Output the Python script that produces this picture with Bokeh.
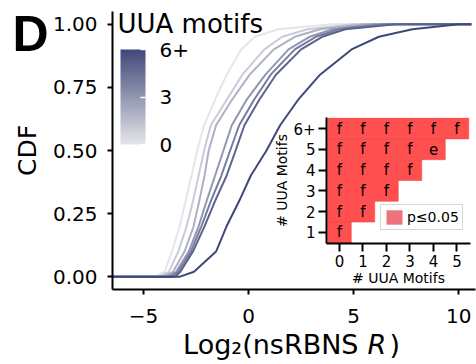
from bokeh.plotting import figure
from bokeh.models import (ColorBar, LinearColorMapper, FixedTicker, Label, Legend,
                          LegendItem, ColumnDataSource, PrintfTickFormatter)
from bokeh.layouts import column
from bokeh.embed import file_html
from bokeh.resources import INLINE
from bokeh.core.properties import value

# ---------------- data ----------------
motif_counts = [0, 1, 2, 3, 4, 5, 6]
motif_labels = ["0", "1", "2", "3", "4", "5", "6+"]
cdf_levels = [0.0, 0.0, 0.02, 0.1, 0.2, 0.3, 0.4, 0.5, 0.6, 0.7, 0.8, 0.9, 0.95, 0.98, 1.0, 1.0]
x_m0 = [-6.5, -4.5, -4.0, -3.65, -3.28, -3.0, -2.72, -2.45, -2.12, -1.6, -1.05, -0.35, 0.3, 1.4, 4.0, 10.6]
x_m1 = [-6.5, -4.3, -3.8, -3.35, -2.95, -2.65, -2.38, -2.12, -1.8, -1.05, -0.3, 0.75, 1.6, 2.8, 5.0, 10.6]
x_m2 = [-6.5, -4.1, -3.6, -3.05, -2.62, -2.35, -2.1, -1.9, -1.55, -0.8, 0.05, 1.2, 2.2, 3.4, 5.5, 10.6]
x_m3 = [-6.5, -3.9, -3.45, -2.85, -2.38, -2.0, -1.6, -1.2, -0.8, -0.1, 0.8, 1.9, 2.9, 4.0, 6.0, 10.6]
x_m4 = [-6.5, -3.7, -3.35, -2.75, -2.25, -1.8, -1.3, -0.88, -0.45, 0.25, 1.05, 2.2, 3.2, 4.3, 6.5, 10.6]
x_m5 = [-6.5, -3.5, -3.25, -2.65, -2.1, -1.6, -1.05, -0.62, -0.2, 0.5, 1.3, 2.5, 3.5, 4.6, 7.0, 10.6]
x_m6 = [-6.5, -3.3, -2.6, -1.55, -1.05, -0.45, 0.1, 0.85, 1.5, 2.35, 3.4, 4.9, 6.2, 7.8, 10.0, 10.6]
curves_x = [x_m0, x_m1, x_m2, x_m3, x_m4, x_m5, x_m6]

x_ticks = [-5, 0, 5, 10]
y_ticks = [0.0, 0.25, 0.5, 0.75, 1.0]

heat_rows = [1, 2, 2, 3, 3, 3, 4, 4, 4, 4, 5, 5, 5, 5, 5, 6, 6, 6, 6, 6, 6]
heat_cols = [0, 0, 1, 0, 1, 2, 0, 1, 2, 3, 0, 1, 2, 3, 4, 0, 1, 2, 3, 4, 5]
heat_text = ["f", "f", "f", "f", "f", "f", "f", "f", "f", "f",
             "f", "f", "f", "f", "e", "f", "f", "f", "f", "f", "f"]
heat_x_ticks = [0, 1, 2, 3, 4, 5]
heat_y_ticks = [1, 2, 3, 4, 5, 6]
sig_label = "p≤0.05"

# ---------------- style ----------------
FONT = "DejaVu Sans"
LOW = (229, 229, 234)
HIGH = (63, 72, 121)


def mix(t):
    r, g, b = (round(LOW[i] + (HIGH[i] - LOW[i]) * t) for i in range(3))
    return "#%02x%02x%02x" % (r, g, b)


palette = [mix(i / 255) for i in range(256)]


def bare(fig):
    fig.grid.visible = False
    fig.outline_line_color = None
    fig.background_fill_alpha = 0
    fig.border_fill_alpha = 0


p = figure(width=476, height=364, x_range=(-6.48, 10.8), y_range=(-0.05, 1.05),
           output_backend="svg", toolbar_location=None,
           min_border_left=112, min_border_right=1, min_border_top=11, min_border_bottom=75)
p.grid.visible = False
p.outline_line_color = None
p.background_fill_color = "white"

for k, xs in zip(motif_counts, curves_x):
    p.line(xs, cdf_levels, line_color=mix(k / 6), line_width=2)

for ax in (p.xaxis[0], p.yaxis[0]):
    ax.axis_line_width = 2
    ax.axis_line_color = "black"
    ax.major_tick_line_width = 2
    ax.major_tick_line_color = "black"
    ax.major_tick_out = 5
    ax.major_tick_in = 0
    ax.minor_tick_out = 0
    ax.minor_tick_in = 0
    ax.major_label_text_font = FONT
    ax.major_label_text_font_size = "20px"
    ax.major_label_text_color = "black"
    ax.axis_label_text_font = FONT
    ax.axis_label_text_font_style = "normal"
    ax.axis_label_text_color = "black"

p.xaxis.ticker = FixedTicker(ticks=x_ticks)
p.xaxis.major_label_overrides = {-5: "\u22125"}
p.xaxis.major_label_standoff = 14
p.yaxis.ticker = FixedTicker(ticks=y_ticks)
p.yaxis.formatter = PrintfTickFormatter(format="%.2f")
p.yaxis.major_label_standoff = 10
p.yaxis.axis_label = "CDF"
p.yaxis.axis_label_text_font_size = "25px"
p.yaxis.axis_label_standoff = 8

# colour bar legend
p.add_layout(Label(x=5, y=266, x_units="screen", y_units="screen", text="UUA motifs",
                   text_font=FONT, text_font_size="26px", text_color="black",
                   text_baseline="middle"))
mapper = LinearColorMapper(palette=palette, low=0, high=6)
cb = ColorBar(color_mapper=mapper, ticker=FixedTicker(ticks=[0, 3, 6]),
              major_label_overrides={6: "6+"},
              major_label_text_font=FONT, major_label_text_font_size="20px",
              major_label_text_color="black", label_standoff=14,
              major_tick_line_color="white", major_tick_line_width=1.5,
              major_tick_in=5, major_tick_out=0, minor_tick_line_color=None,
              bar_line_color=None, border_line_color=None, background_fill_alpha=0,
              width=25, height=95, padding=0, location=(8, 145))
p.add_layout(cb)

# ---------------- inset heatmap ----------------
p2 = figure(width=257, height=200, x_range=(-0.553, 5.575), y_range=(0.47, 6.53),
            output_backend="svg", toolbar_location=None,
            min_border_left=112, min_border_right=1, min_border_top=17, min_border_bottom=57)
bare(p2)
p2.styles = {"position": "absolute", "left": "214px", "top": "100px"}

src = ColumnDataSource(dict(col=heat_cols, row=heat_rows, txt=heat_text))
p2.rect(x="col", y="row", width=1, height=1, source=src, fill_color="#ff4f4f",
        line_color="#f24a4a", line_width=0.6)
p2.text(x="col", y="row", text="txt", source=src, text_align="center",
        text_baseline="middle", text_font=value(FONT), text_font_size="15px", text_color="black")

nan = float("nan")
leg_r = p2.rect(x=[nan], y=[nan], width=1, height=1, fill_color="#ef737c", line_color=None)
legend = Legend(items=[LegendItem(label=sig_label, renderers=[leg_r])], location=(54, 13),
                border_line_color="#b0b0b0", border_line_width=1, padding=3, margin=0,
                glyph_width=20, glyph_height=18, label_text_font=FONT,
                label_text_font_size="14px", label_text_color="black", label_standoff=3,
                spacing=0, background_fill_color="white", background_fill_alpha=1,
                label_height=18)
p2.add_layout(legend)

for ax in (p2.xaxis[0], p2.yaxis[0]):
    ax.axis_line_width = 2
    ax.axis_line_color = "black"
    ax.major_tick_line_width = 2
    ax.major_tick_line_color = "black"
    ax.major_tick_out = 8
    ax.major_tick_in = 0
    ax.minor_tick_out = 0
    ax.minor_tick_in = 0
    ax.major_label_text_font = FONT
    ax.major_label_text_font_size = "15px"
    ax.major_label_text_color = "black"
    ax.axis_label = "# UUA Motifs"
    ax.axis_label_text_font = FONT
    ax.axis_label_text_font_size = "14px"
    ax.axis_label_text_font_style = "normal"
    ax.axis_label_text_color = "black"
    ax.axis_label_standoff = 0

p2.xaxis.ticker = FixedTicker(ticks=heat_x_ticks)
p2.xaxis.major_label_standoff = 3
p2.yaxis.ticker = FixedTicker(ticks=heat_y_ticks)
p2.yaxis.major_label_overrides = {6: "6+"}
p2.yaxis.major_label_standoff = 3

# ---------------- x-axis title (with italic R) ----------------
px = figure(width=476, height=46, x_range=(0, 1), y_range=(0, 1),
            output_backend="svg", toolbar_location=None, x_axis_type=None, y_axis_type=None,
            min_border_left=112, min_border_right=1, min_border_top=0, min_border_bottom=0)
bare(px)
px.styles = {"position": "absolute", "left": "0px", "top": "318px"}
lab_kw = dict(x_units="screen", y_units="screen", text_font=FONT, text_font_size="27px",
              text_color="black", text_baseline="middle")
px.add_layout(Label(x=246, y=20, text="Log\u2082(nsRBNS", text_align="right", **lab_kw))
px.add_layout(Label(x=255, y=20, text="R", text_align="left", text_font_style="italic", **lab_kw))
px.add_layout(Label(x=277, y=20, text=")", text_align="left", **lab_kw))

# ---------------- panel letter ----------------
pd_ = figure(width=158, height=60, x_range=(0, 1), y_range=(0, 1),
             output_backend="svg", toolbar_location=None, x_axis_type=None, y_axis_type=None,
             min_border_left=112, min_border_right=1, min_border_top=0, min_border_bottom=0)
bare(pd_)
pd_.styles = {"position": "absolute", "left": "-100px", "top": "0px"}
pd_.add_layout(Label(x=0, y=27, x_units="screen", y_units="screen", text="D",
                     text_font="Liberation Sans", text_font_style="bold", text_font_size="50px",
                     text_color="black", text_baseline="middle"))

layout = column(p, p2, px, pd_)
open("out.html", "w").write(file_html(layout, INLINE))
